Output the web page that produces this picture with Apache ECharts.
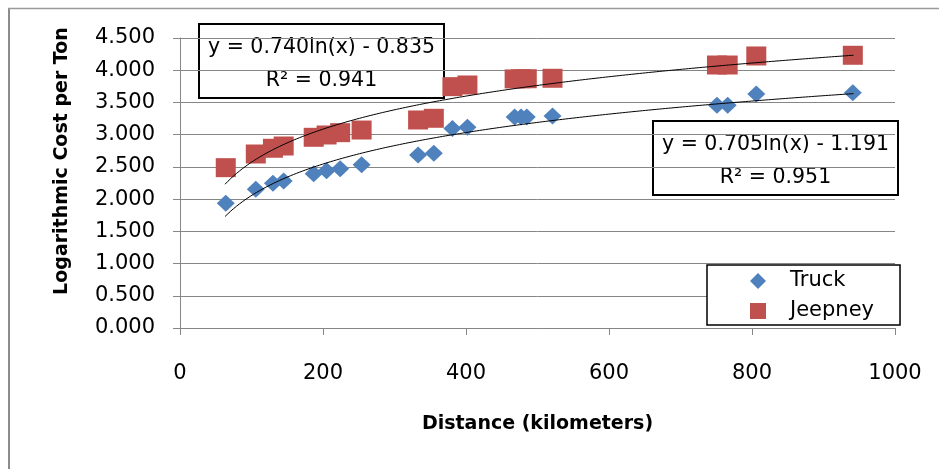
<!DOCTYPE html>
<html>
<head>
<meta charset="utf-8">
<script src="https://cdn.jsdelivr.net/npm/echarts@6/dist/echarts.min.js"></script>
<style>
html,body{margin:0;padding:0;background:#fff;}
#chart{width:939px;height:469px;}
</style>
</head>
<body>
<div id="chart"></div>
<script>
// Distances (km) shared by both series
const distances = [64, 106, 130, 145, 187, 205, 224, 254, 333, 355, 381, 402, 468, 477, 485, 521, 751, 766, 806, 941];
const truckValues = [1.935, 2.152, 2.245, 2.281, 2.395, 2.442, 2.473, 2.535, 2.685, 2.711, 3.095, 3.114, 3.274, 3.274, 3.274, 3.290, 3.456, 3.456, 3.631, 3.651];
const jeepneyValues = [2.488, 2.700, 2.789, 2.824, 2.959, 2.995, 3.031, 3.072, 3.228, 3.254, 3.745, 3.771, 3.865, 3.868, 3.868, 3.875, 4.081, 4.081, 4.221, 4.232];
const yTicks = [0, 0.5, 1, 1.5, 2, 2.5, 3, 3.5, 4, 4.5];
const xTicks = [0, 200, 400, 600, 800, 1000];
// Trendline coefficients shown on chart: y = a ln(x) + b
const truckTrend = { a: 0.705, b: -1.191, r2: 0.951 };
const jeepneyTrend = { a: 0.740, b: -0.835, r2: 0.941 };
const trendRange = [63, 942];
const xTitle = 'Distance (kilometers)';
const yTitle = 'Logarithmic Cost per Ton';

const FONT = 'DejaVu Sans';
function pairs(xs, ys) { return xs.map((x, i) => [x, ys[i]]); }
function trendPoints(t) {
  const pts = [];
  for (let x = trendRange[0]; x <= trendRange[1]; x += 4) pts.push([x, t.a * Math.log(x) + t.b]);
  pts.push([trendRange[1], t.a * Math.log(trendRange[1]) + t.b]);
  return pts;
}
function eqText(t) {
  const s = t.b < 0 ? ' - ' : ' + ';
  return 'y = ' + t.a.toFixed(3) + 'ln(x)' + s + Math.abs(t.b).toFixed(3);
}
function eqBox(left, top, t) {
  return { type: 'group', left: left, top: top, z: 10, children: [
    { type: 'rect', shape: { x: 0, y: 0, width: 245, height: 74 }, style: { fill: '#fff', stroke: '#000', lineWidth: 2 } },
    { type: 'text', x: 122.5, y: 24, style: { text: eqText(t), fontFamily: FONT, fontSize: 20.5, fill: '#000', align: 'center', verticalAlign: 'middle' } },
    { type: 'text', x: 122.5, y: 57, style: { text: 'R² = ' + t.r2.toFixed(3), fontFamily: FONT, fontSize: 20.5, fill: '#000', align: 'center', verticalAlign: 'middle' } }
  ]};
}

const chart = echarts.init(document.getElementById('chart'));
const option = {
  backgroundColor: '#ffffff',
  animation: false,
  grid: { left: 180, right: 44, top: 38, bottom: 141, containLabel: false },
  xAxis: {
    type: 'value', min: xTicks[0], max: xTicks[xTicks.length - 1], interval: 200,
    name: xTitle, nameLocation: 'middle', nameGap: 87,
    nameTextStyle: { fontFamily: FONT, fontSize: 19, fontWeight: 'bold', color: '#000' },
    axisLine: { show: true, onZero: false, lineStyle: { color: '#868686', width: 1 } },
    axisTick: { show: true, inside: false, length: 7, lineStyle: { color: '#868686' } },
    axisLabel: { margin: 35, fontFamily: FONT, fontSize: 21, color: '#000', formatter: v => String(v) },
    splitLine: { show: false }
  },
  yAxis: {
    type: 'value', min: yTicks[0], max: yTicks[yTicks.length - 1], interval: 0.5,
    axisLine: { show: true, lineStyle: { color: '#868686', width: 1 } },
    axisTick: { show: true, inside: false, length: 7, lineStyle: { color: '#868686' } },
    axisLabel: { margin: 25, fontFamily: FONT, fontSize: 21, color: '#000', formatter: v => v.toFixed(3) },
    splitLine: { show: true, lineStyle: { color: '#868686', width: 1 } }
  },
  legend: {
    orient: 'vertical', left: 707, top: 265,
    padding: [5, 26, 3, 43], itemGap: 8, itemWidth: 16, itemHeight: 16,
    borderColor: '#000', borderWidth: 1.5, backgroundColor: '#fff',
    textStyle: { fontFamily: FONT, fontSize: 21, color: '#000', lineHeight: 22, padding: [0, 0, 0, 19] },
    data: [{ name: 'Truck', icon: 'diamond' }, { name: 'Jeepney', icon: 'rect' }]
  },
  series: [
    { name: 'Truck', type: 'scatter', symbol: 'diamond', symbolSize: [18, 17], z: 3,
      itemStyle: { color: '#4F81BD', opacity: 1 }, data: pairs(distances, truckValues) },
    { name: 'Jeepney', type: 'scatter', symbol: 'rect', symbolSize: [20, 19], z: 3,
      itemStyle: { color: '#C0504D', opacity: 1 }, data: pairs(distances, jeepneyValues) },
    { name: 'TruckTrend', type: 'line', showSymbol: false, symbol: 'none', smooth: false, z: 5,
      lineStyle: { color: '#000', width: 1 }, data: trendPoints(truckTrend), silent: true },
    { name: 'JeepneyTrend', type: 'line', showSymbol: false, symbol: 'none', smooth: false, z: 5,
      lineStyle: { color: '#000', width: 1 }, data: trendPoints(jeepneyTrend), silent: true }
  ],
  graphic: [
    { type: 'line', shape: { x1: 9, y1: 8, x2: 9, y2: 469 }, style: { stroke: '#8c8c8c', lineWidth: 2 }, z: 1 },
    { type: 'line', shape: { x1: 8, y1: 8.5, x2: 939, y2: 8.5 }, style: { stroke: '#9a9a9a', lineWidth: 1.5 }, z: 1 },
    { type: 'text', x: 62, y: 161, rotation: Math.PI / 2, z: 10,
      style: { text: yTitle, fontFamily: FONT, fontSize: 19, fontWeight: 'bold', fill: '#000', align: 'center', verticalAlign: 'middle' } },
    eqBox(198, 23, jeepneyTrend),
    eqBox(652, 120, truckTrend)
  ]
};
chart.setOption(option);
</script>
</body>
</html>
